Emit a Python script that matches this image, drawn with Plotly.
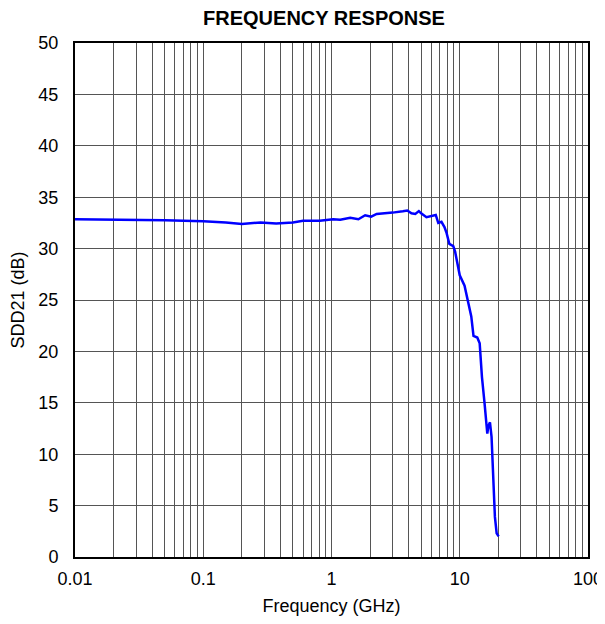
import plotly.graph_objects as go

freq_ghz = [0.01, 0.02, 0.05, 0.1, 0.15, 0.2, 0.28, 0.37, 0.5, 0.6, 0.81, 1.03, 1.17, 1.4, 1.62, 1.83,
            2.04, 2.25, 2.7, 3.0, 3.6, 3.9, 4.2, 4.5, 4.8, 5.0, 5.5, 6.0, 6.5, 6.8, 7.2, 7.6, 7.9,
            8.3, 8.9, 9.2, 9.6, 10.0, 10.9, 11.6, 12.3, 12.8, 13.7, 14.3, 14.9, 15.6, 16.0, 16.4,
            16.7, 17.2, 17.7, 18.2, 18.8, 19.4, 20.1]
sdd21_db = [32.85, 32.82, 32.75, 32.65, 32.55, 32.4, 32.55, 32.45, 32.55, 32.7, 32.7, 32.85, 32.8, 33.0, 32.85, 33.24,
            33.1, 33.37, 33.43, 33.5, 33.63, 33.7, 33.43, 33.37, 33.65, 33.43, 33.05, 33.2, 33.27, 32.5, 32.6, 32.1, 31.5,
            30.45, 30.25, 29.7, 28.3, 27.4, 26.4, 25.0, 23.4, 21.5, 21.35, 20.8, 17.5, 15.0, 13.0, 12.0,
            12.7, 13.1, 11.7, 7.8, 3.9, 2.3, 2.0]

x_tickvals = [0.01, 0.1, 1, 10, 100]
x_ticktext = ["0.01", "0.1", "1", "10", "100"]
minor_vals = [m * d for d in [0.01, 0.1, 1, 10] for m in range(2, 10)]

fig = go.Figure()
fig.add_trace(go.Scatter(x=freq_ghz, y=sdd21_db, mode="lines",
                         line=dict(color="#0000FF", width=2.5), showlegend=False))

fig.update_layout(
    width=597, height=608,
    margin=dict(l=67, r=17, t=35, b=59),
    paper_bgcolor="white", plot_bgcolor="white",
    font=dict(family="Liberation Sans, Arial, sans-serif", size=18, color="black"),
    title=dict(text="<b>FREQUENCY RESPONSE</b>", x=316 / 597, xanchor="center",
               y=1 - 10 / 608, yanchor="middle", font=dict(size=20, color="black")),
)
fig.update_xaxes(
    type="log", range=[-2, 2], automargin=False,
    tickvals=x_tickvals, ticktext=x_ticktext,
    showgrid=True, gridcolor="#555555", gridwidth=1,
    minor=dict(tickvals=minor_vals, showgrid=True, gridcolor="#555555", gridwidth=1, ticks=""),
    showline=True, linecolor="black", linewidth=2, mirror=True,
    ticks="", zeroline=False, ticklabelstandoff=4,
    title=dict(text="Frequency (GHz)", standoff=13, font=dict(size=18)),
    tickfont=dict(size=18),
)
fig.update_yaxes(
    range=[0, 50], dtick=5, automargin=False,
    showgrid=True, gridcolor="#555555", gridwidth=1,
    showline=True, linecolor="black", linewidth=2, mirror=True,
    ticks="", zeroline=False, ticklabelstandoff=11,
    title=dict(text="SDD21 (dB)", standoff=10, font=dict(size=18)),
    tickfont=dict(size=18),
)

fig.write_html("out.html")
